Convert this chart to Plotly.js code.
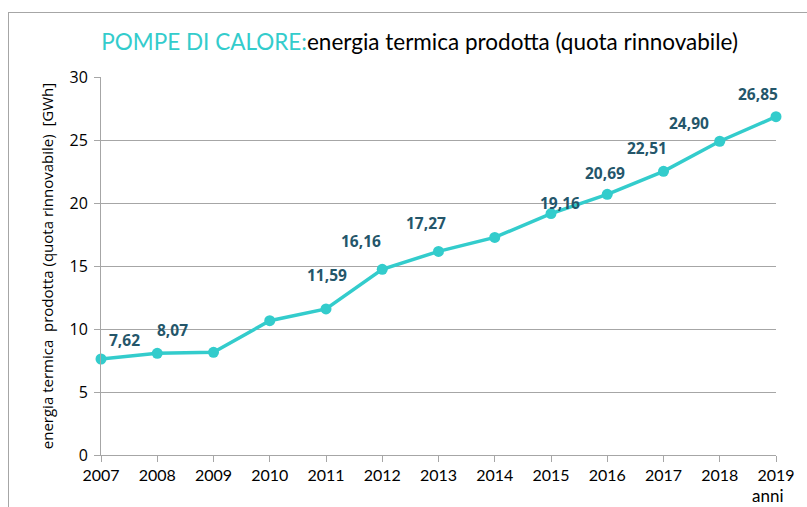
<!DOCTYPE html>
<html>
<head>
<meta charset="utf-8">
<script src="https://cdn.plot.ly/plotly-3.0.1.min.js"></script>
<style>
  html, body { margin: 0; padding: 0; background: #ffffff; }
  #frame { position: absolute; left: 8px; top: 12px; width: 820px; height: 520px;
           border-top: 1.5px solid #a6a6a6; border-left: 1.5px solid #a6a6a6; }
  #chart { position: absolute; left: 0; top: 0; width: 807px; height: 507px; }
</style>
</head>
<body>
<div id="frame"></div>
<div id="chart"></div>
<script>
// ---- data ----
const years  = [2007, 2008, 2009, 2010, 2011, 2012, 2013, 2014, 2015, 2016, 2017, 2018, 2019];
const values = [7.62, 8.07, 8.15, 10.66, 11.59, 14.74, 16.16, 17.27, 19.16, 20.69, 22.51, 24.90, 26.85];
const yearLabels = years.map(String);
const labelledYears = [2007, 2008, 2011, 2013, 2014, 2015, 2016, 2017, 2018, 2019];

// label placement offsets (pixels) relative to each point
const labelShift = {
  2007: [23, 19], 2008: [15, 23], 2011: [1, 34], 2013: [-78, 10], 2014: [-69, 14],
  2015: [9, 11], 2016: [-2, 21], 2017: [-17, 23], 2018: [-31, 18], 2019: [-18, 23]
};

const teal = '#33CCCC';
const labelColor = '#24566A';
const gridColor = '#a6a6a6';

const trace = {
  x: years, y: values, type: 'scatter', mode: 'lines+markers',
  line: { color: teal, width: 3.5 },
  marker: { color: teal, size: 11 },
  cliponaxis: false, hoverinfo: 'skip'
};

const annotations = labelledYears.map(function (yr) {
  const i = years.indexOf(yr);
  return {
    x: yr, y: values[i], xref: 'x', yref: 'y',
    text: values[i].toFixed(2).replace('.', ','),
    showarrow: false, xanchor: 'center', yanchor: 'middle',
    xshift: labelShift[yr][0], yshift: labelShift[yr][1],
    font: { family: 'Open Sans', size: 15.5, color: labelColor, weight: 'bold' }
  };
});

annotations.push({
  x: years[years.length - 1], xref: 'x', y: 0, yref: 'paper',
  text: 'anni', showarrow: false, xanchor: 'center', yanchor: 'top',
  xshift: -8, yshift: -28,
  font: { family: 'Lato', size: 17, color: '#000000' }
});

const layout = {
  width: 807, height: 507,
  margin: { l: 101, r: 31, t: 77, b: 52 },
  paper_bgcolor: 'rgba(0,0,0,0)', plot_bgcolor: 'rgba(0,0,0,0)',
  showlegend: false,
  title: {
    text: '<span style="color:' + teal + '">POMPE DI CALORE:</span>energia termica prodotta (quota rinnovabile)',
    x: 0.52, xref: 'container', xanchor: 'center',
    y: 1 - 42 / 507, yref: 'container', yanchor: 'middle',
    font: { family: 'Lato', size: 22.5, color: '#000000' }
  },
  xaxis: {
    range: [years[0], years[years.length - 1]],
    tickvals: years, ticktext: yearLabels,
    showgrid: false, zeroline: false,
    showline: true, linecolor: gridColor, linewidth: 1,
    ticks: 'outside', ticklen: 6, tickcolor: gridColor,
    tickfont: { family: 'Lato', size: 16, color: '#000000' }
  },
  yaxis: {
    range: [0, 30], dtick: 5, tick0: 0,
    showgrid: true, gridcolor: gridColor, gridwidth: 1, zeroline: false,
    showline: true, linecolor: gridColor, linewidth: 1,
    ticks: 'outside', ticklen: 6, tickcolor: gridColor,
    ticklabelstandoff: 3,
    tickfont: { family: 'Open Sans', size: 16, color: '#000000' },
    title: {
      text: 'energia termica  prodotta (quota rinnovabile)  [GWh]',
      font: { family: 'Open Sans', size: 15, color: '#000000' },
      standoff: 12
    }
  },
  annotations: annotations
};

Plotly.newPlot('chart', [trace], layout, { displayModeBar: false, staticPlot: true });
</script>
</body>
</html>
